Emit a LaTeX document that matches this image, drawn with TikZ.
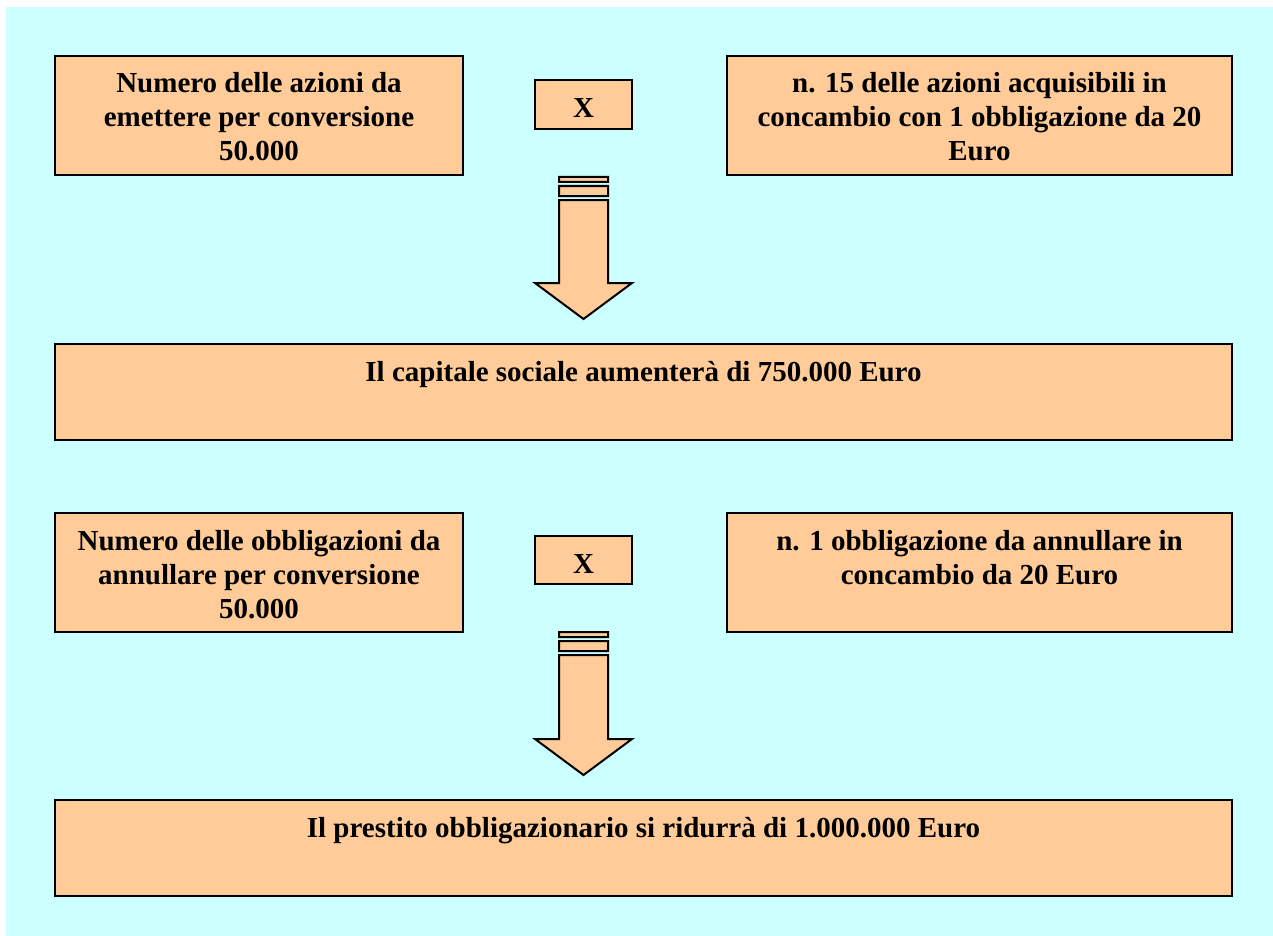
\documentclass[tikz,border=0pt]{standalone}
\usepackage{fontspec}
\setmainfont{Liberation Serif}
\usepackage{tikz}
\usepackage{xcolor}
\usetikzlibrary{calc}
\definecolor{bgcyan}{RGB}{204,255,255}
\definecolor{boxorange}{RGB}{255,204,153}
\newcommand{\boxtxt}[3]{\parbox[c][#2][t]{#1}{\centering\rule{0pt}{37pt}#3}}

\begin{document}
\begin{tikzpicture}[
    x=1pt, y=-1pt,
    box/.style={rectangle, draw=black, line width=2pt, fill=boxorange, inner sep=0pt, anchor=north west, font=\bfseries\fontsize{29}{34}\selectfont},
    multbox/.style={box, minimum width=97pt, minimum height=49pt, text height=26pt, text depth=0pt},
    blockarrow/.style={draw=black, line width=2pt, fill=boxorange, line join=miter}
]
\useasboundingbox (0,0) rectangle (1273,936);
\fill[bgcyan] (6,7) rectangle (1273,936);

% Nodes
\node[box] (sharesnum) at (54,55) {\boxtxt{408pt}{119pt}{Numero delle azioni da\\emettere per conversione\\50.000}};
\node[multbox] (mult1) at (534,79) {X};
\node[box] (ratio1) at (726,55) {\boxtxt{505pt}{119pt}{n. 15 delle azioni acquisibili in\\concambio con 1 obbligazione da 20\\Euro}};
\node[box] (capital) at (54,343) {\boxtxt{1177pt}{96pt}{Il capitale sociale aumenterà di 750.000 Euro}};

\node[box] (bondsnum) at (54,512) {\boxtxt{408pt}{119pt}{Numero delle obbligazioni da\\annullare per conversione\\50.000}};
\node[multbox, minimum height=48pt] (mult2) at (534,535) {X};
\node[box] (ratio2) at (726,512) {\boxtxt{505pt}{119pt}{n. 1 obbligazione da annullare in\\concambio da 20 Euro}};
\node[box] (loan) at (54,799) {\boxtxt{1177pt}{96pt}{Il prestito obbligazionario si ridurrà di 1.000.000 Euro}};

% Block arrows
\foreach \src/\dst in {mult1/capital, mult2/loan}{
  \draw[blockarrow] let \p1=(\src.south), \p2=(\dst.north) in
    (\x1-24.5pt,\y1-47pt) rectangle (\x1+24.5pt,\y1-52pt)
    (\x1-24.5pt,\y1-56pt) rectangle (\x1+24.5pt,\y1-66pt)
    (\x1-24.5pt,\y1-70pt) -- (\x1+24.5pt,\y1-70pt) -- (\x1+24.5pt,\y2+60pt)
    -- (\x1+48.5pt,\y2+60pt) -- (\x1,\y2+24pt) -- (\x1-48.5pt,\y2+60pt)
    -- (\x1-24.5pt,\y2+60pt) -- cycle;
}

\end{tikzpicture}
\end{document}
